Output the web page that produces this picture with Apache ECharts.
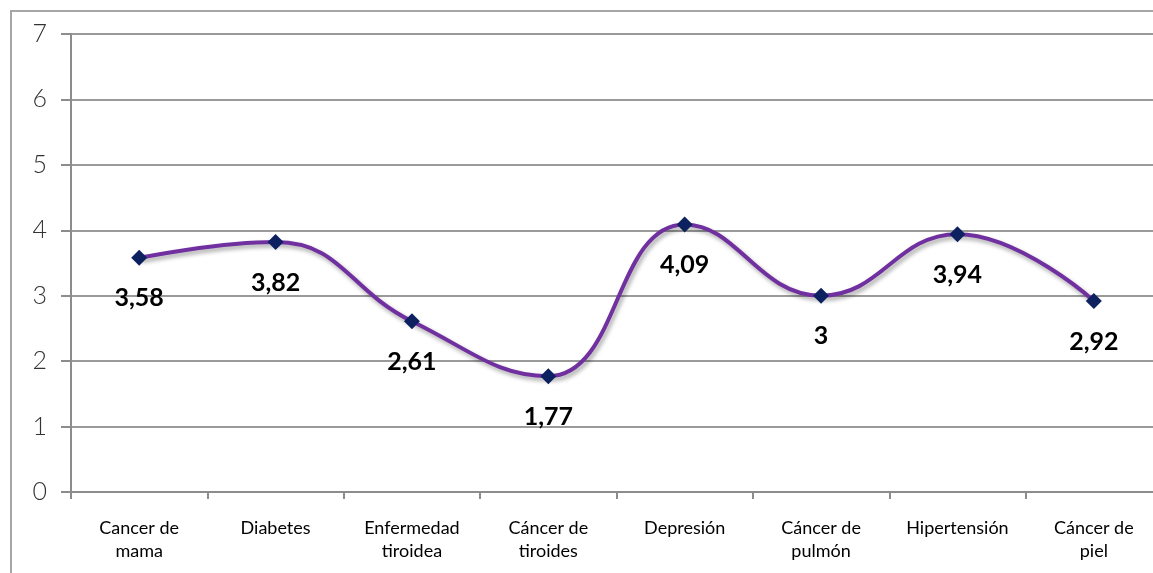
<!DOCTYPE html>
<html>
<head>
<meta charset="utf-8">
<script src="https://cdn.jsdelivr.net/npm/echarts@6/dist/echarts.min.js"></script>
<style>
  html, body { margin: 0; padding: 0; background: #fff; }
  #chart { width: 1153px; height: 573px; }
</style>
</head>
<body>
<div id="chart"></div>
<script>
// categorias y valores
const categories = [
  "Cancer de\nmama", "Diabetes", "Enfermedad\ntiroidea", "Cáncer de\ntiroides",
  "Depresión", "Cáncer de\npulmón", "Hipertensión", "Cáncer de\npiel"
];
const values = [3.58, 3.82, 2.61, 1.77, 4.09, 3, 3.94, 2.92];

const chart = echarts.init(document.getElementById("chart"));

const option = {
  animation: false,
  textStyle: { fontFamily: "Lato, 'DejaVu Sans', sans-serif" },
  graphic: [
    {
      type: "rect",
      shape: { x: 11, y: 11, width: 1200, height: 620 },
      style: { fill: null, stroke: "#a6a6a6", lineWidth: 2 },
      silent: true,
    },
  ],
  grid: {
    left: 71,
    right: -9,
    top: 34,
    bottom: 81,
    containLabel: false,
    outerBoundsMode: "none",
  },
  xAxis: {
    type: "category",
    data: categories,
    boundaryGap: true,
    axisLine: { lineStyle: { color: "#8c8c8c", width: 2 } },
    axisTick: { show: true, length: 7, lineStyle: { color: "#8c8c8c", width: 2 } },
    axisLabel: {
      color: "#000",
      fontSize: 18,
      lineHeight: 23,
      margin: 25,
      interval: 0,
    },
  },
  yAxis: {
    type: "value",
    min: 0,
    max: 7,
    interval: 1,
    axisLine: { show: true, lineStyle: { color: "#8c8c8c", width: 2 } },
    axisTick: { show: true, length: 10, lineStyle: { color: "#8c8c8c", width: 2 } },
    splitLine: { lineStyle: { color: "#9a9a9a", width: 2 } },
    axisLabel: {
      color: "#333",
      fontSize: 25,
      fontWeight: 300,
      margin: 24,
    },
  },
  series: [
    {
      type: "line",
      data: values,
      smooth: 0.45,
      symbol: "diamond",
      symbolSize: 16,
      itemStyle: { color: "#0d2160" },
      lineStyle: {
        color: "#7030a0",
        width: 4,
        shadowColor: "rgba(0,0,0,0.35)",
        shadowBlur: 4,
        shadowOffsetX: 2,
        shadowOffsetY: 3,
      },
      label: {
        show: true,
        position: "bottom",
        distance: 20,
        color: "#000",
        fontSize: 25,
        fontWeight: "bold",
        formatter: (p) => String(p.value).replace(".", ","),
      },
    },
  ],
};

chart.setOption(option);
</script>
</body>
</html>
